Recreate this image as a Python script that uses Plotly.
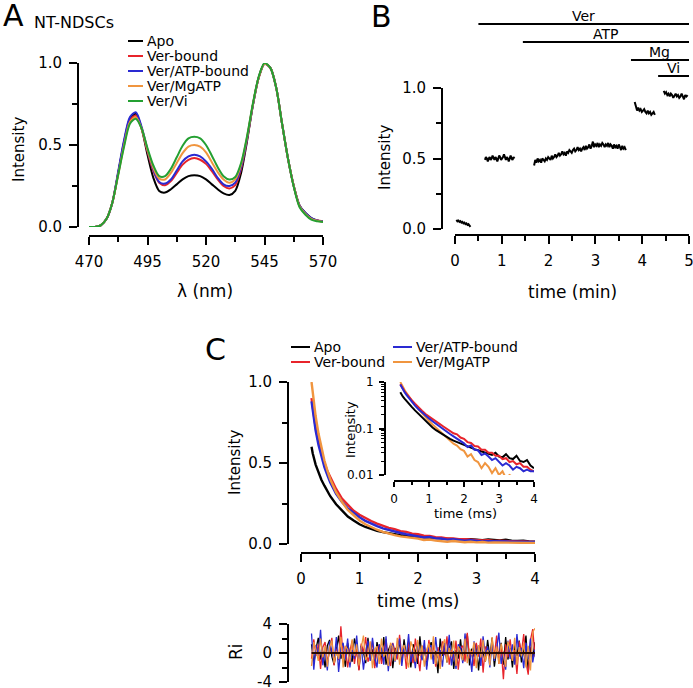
import numpy as np
import plotly.graph_objects as go

W, H = 693, 688
FONT = "DejaVu Sans"

# ---------------- data ----------------
series_names = ["Apo", "Ver-bound", "Ver/ATP-bound", "Ver/MgATP", "Ver/Vi"]
series_colors = ["#000000", "#e8242b", "#2a2ad2", "#f0953f", "#24a032"]

# Panel A: emission spectra (wavelength grid, nm)
wavelength = [470, 472.5, 475, 477.5, 480, 482.5, 485, 487.5, 490, 492.5, 495, 497.5, 500, 502.5,
              505, 507.5, 510, 512.5, 515, 517.5, 520, 522.5, 525, 527.5, 530, 532.5, 535, 537.5,
              540, 542.5, 545, 547.5, 550, 552.5, 555, 557.5, 560, 562.5, 565, 567.5, 570]
spec_apo = [0.00, 0.00, 0.01, 0.05, 0.15, 0.33, 0.52, 0.66, 0.69, 0.60, 0.44, 0.30, 0.22, 0.21,
            0.23, 0.26, 0.29, 0.31, 0.315, 0.31, 0.29, 0.26, 0.23, 0.205, 0.195, 0.22, 0.33, 0.52,
            0.74, 0.91, 0.995, 0.97, 0.85, 0.63, 0.42, 0.25, 0.13, 0.085, 0.055, 0.04, 0.035]
spec_ver = [0.00, 0.00, 0.01, 0.05, 0.15, 0.33, 0.51, 0.65, 0.68, 0.60, 0.46, 0.34, 0.27, 0.255,
            0.28, 0.33, 0.38, 0.41, 0.42, 0.41, 0.385, 0.34, 0.29, 0.25, 0.235, 0.255, 0.355, 0.53,
            0.74, 0.91, 0.995, 0.97, 0.85, 0.63, 0.42, 0.25, 0.13, 0.08, 0.05, 0.04, 0.035]
spec_veratp = [0.00, 0.00, 0.01, 0.05, 0.15, 0.34, 0.53, 0.67, 0.70, 0.61, 0.47, 0.35, 0.275, 0.265,
               0.29, 0.345, 0.40, 0.43, 0.44, 0.43, 0.40, 0.355, 0.30, 0.26, 0.25, 0.27, 0.365, 0.535,
               0.74, 0.91, 0.995, 0.97, 0.85, 0.63, 0.42, 0.25, 0.13, 0.085, 0.055, 0.04, 0.035]
spec_mgatp = [0.00, 0.00, 0.01, 0.05, 0.15, 0.32, 0.50, 0.64, 0.67, 0.60, 0.47, 0.36, 0.295, 0.29,
              0.33, 0.39, 0.45, 0.49, 0.50, 0.49, 0.455, 0.395, 0.335, 0.29, 0.27, 0.29, 0.38, 0.545,
              0.745, 0.91, 0.995, 0.97, 0.85, 0.63, 0.42, 0.25, 0.125, 0.08, 0.05, 0.038, 0.032]
spec_vi = [0.00, 0.00, 0.01, 0.05, 0.15, 0.32, 0.49, 0.63, 0.66, 0.60, 0.48, 0.375, 0.31, 0.31,
           0.355, 0.425, 0.495, 0.54, 0.55, 0.54, 0.50, 0.435, 0.365, 0.31, 0.29, 0.305, 0.39, 0.55,
           0.75, 0.915, 1.0, 0.97, 0.85, 0.63, 0.42, 0.245, 0.12, 0.075, 0.045, 0.035, 0.03]
spectra = [spec_apo, spec_ver, spec_veratp, spec_mgatp, spec_vi]

# Panel B: time course segments (start min, end min, values)
seg1_t = (0.03, 0.33)
seg1_v = [0.065, 0.055, 0.06, 0.05, 0.055, 0.045, 0.05, 0.04, 0.045, 0.035, 0.04, 0.03, 0.035, 0.025, 0.015]
seg2_t = (0.64, 1.27)
seg2_v = [0.49, 0.51, 0.50, 0.48, 0.50, 0.51, 0.49, 0.50, 0.52, 0.50, 0.49, 0.51, 0.50, 0.48, 0.50, 0.52,
          0.51, 0.49, 0.50, 0.51, 0.53, 0.50, 0.49, 0.51, 0.50, 0.48, 0.51, 0.52, 0.50, 0.49, 0.51, 0.50]
seg3_t = (1.69, 3.65)
seg3_v = [0.45,
          0.49, 0.47, 0.50, 0.48, 0.49, 0.47, 0.50, 0.49, 0.48, 0.50,
          0.49, 0.51, 0.50, 0.49, 0.52, 0.50, 0.51, 0.53, 0.51, 0.52,
          0.54, 0.52, 0.53, 0.55, 0.53, 0.54, 0.52, 0.55, 0.54, 0.56,
          0.55, 0.54, 0.56, 0.57, 0.55, 0.56, 0.58, 0.56, 0.57, 0.55,
          0.57, 0.58, 0.56, 0.59, 0.57, 0.58, 0.60, 0.57, 0.59, 0.62,
          0.58, 0.60, 0.59, 0.61, 0.58, 0.60, 0.59, 0.61, 0.60, 0.58,
          0.60, 0.59, 0.61, 0.58, 0.60, 0.59, 0.57, 0.60, 0.58, 0.59,
          0.57, 0.60, 0.58, 0.56, 0.59, 0.57, 0.58, 0.56]
seg4_t = (3.84, 4.27)
seg4_v = [0.90, 0.86, 0.84, 0.86, 0.84, 0.85, 0.83, 0.84, 0.85, 0.83, 0.82, 0.84, 0.82, 0.83, 0.81, 0.82, 0.83, 0.81]
seg5_t = (4.46, 4.97)
seg5_v = [0.98, 0.96, 0.97, 0.95, 0.96, 0.94, 0.96, 0.95, 0.93, 0.95, 0.96, 0.94, 0.95, 0.93, 0.94, 0.96,
          0.94, 0.92, 0.95, 0.94, 0.95]
segments = [(seg1_t, seg1_v), (seg2_t, seg2_v), (seg3_t, seg3_v), (seg4_t, seg4_v), (seg5_t, seg5_v)]

treat_names = ["Ver", "ATP", "Mg", "Vi"]
treat_start = [0.5, 1.45, 3.76, 4.34]
treat_end = [5.0, 5.0, 5.0, 5.0]

# Panel C: fluorescence decays (ms)
decay_names = ["Apo", "Ver-bound", "Ver/ATP-bound", "Ver/MgATP"]
decay_colors = ["#000000", "#e8242b", "#2a2ad2", "#f0953f"]
t_decay = [0.18, 0.2, 0.25, 0.3, 0.35, 0.4, 0.45, 0.5, 0.6, 0.7, 0.8, 0.9, 1.0, 1.1, 1.2, 1.3, 1.4, 1.5,
           1.6, 1.7, 1.8, 1.9, 2.0, 2.1, 2.2, 2.3, 2.4, 2.5, 2.6, 2.7, 2.8, 2.9, 3.0, 3.1, 3.2, 3.3,
           3.4, 3.5, 3.6, 3.7, 3.8, 3.9, 4.0]
dec_apo = [0.60, 0.56, 0.49, 0.44, 0.395, 0.36, 0.325, 0.295, 0.245, 0.205, 0.17, 0.145, 0.122, 0.105,
           0.092, 0.082, 0.073,
           0.066, 0.060, 0.055, 0.051, 0.047, 0.044, 0.041, 0.038, 0.036, 0.034, 0.032, 0.030, 0.029,
           0.027, 0.030, 0.025, 0.024, 0.028, 0.023, 0.022, 0.026, 0.020, 0.019, 0.021, 0.016, 0.014]
dec_ver = [0.90, 0.84, 0.72, 0.63, 0.56, 0.50, 0.45, 0.41, 0.34, 0.28, 0.24, 0.205, 0.18, 0.16, 0.142,
           0.126, 0.112,
           0.10, 0.092, 0.079, 0.075, 0.064, 0.060, 0.051, 0.049, 0.042, 0.041, 0.035, 0.035, 0.030,
           0.030, 0.026, 0.026, 0.022, 0.023, 0.019, 0.020, 0.017, 0.018, 0.015, 0.015, 0.013, 0.012]
dec_veratp = [0.88, 0.82, 0.70, 0.61, 0.535, 0.475, 0.425, 0.38, 0.31, 0.26, 0.22, 0.19, 0.165, 0.143,
              0.125, 0.11, 0.097,
              0.086, 0.076, 0.068, 0.060, 0.054, 0.048, 0.040, 0.043, 0.035, 0.034, 0.027, 0.029, 0.025,
              0.021, 0.023, 0.019, 0.016, 0.018, 0.016, 0.013, 0.015, 0.014, 0.012, 0.013, 0.012, 0.012]
dec_mgatp = [1.00, 0.93, 0.79, 0.68, 0.59, 0.515, 0.455, 0.40, 0.32, 0.26, 0.21, 0.175, 0.145, 0.122,
             0.103, 0.088, 0.075,
             0.064, 0.055, 0.047, 0.043, 0.036, 0.033, 0.025, 0.028, 0.021, 0.019, 0.014, 0.018, 0.015,
             0.011, 0.014, 0.010, 0.012, 0.0085, 0.010, 0.009, 0.0075, 0.008, 0.007, 0.0068, 0.0062, 0.006]
decays = [dec_apo, dec_ver, dec_veratp, dec_mgatp]

# Residuals (weighted), plotted over 0.18–4.0 ms
res_t_range = (0.18, 4.0)
res_apo = [1.2, -1.5, 0.6, 2.1, -0.9, 0.3, -2.0, 1.0, 1.8, -0.5, -1.6, 0.8, 2.4, -0.8, 0.2, -1.9, 1.4, -0.3, -1.2, 2.0,
           0.6, -2.3, 1.0, 0.1, -1.4, 2.1, -0.7, 0.5, -1.8, 1.5, 0.2, -1.0, 2.2, -1.6, 0.4, 1.1, -2.1, 0.7, -0.3, 1.7,
           -1.1, 1.9, -0.6, 0.8, -2.0, 1.2, 0.3, -1.5, 2.3, -0.7, 0.9, -1.8, 0.5, 1.5, -0.9, 0.3, -2.8, 2.0, -0.4, 1.0,
           -1.3, 0.7, 1.6, -2.2, 0.4, -0.8, 1.9, -1.1, 0.2, 2.6, -1.7, 0.6, -0.5, 1.3, -2.4, 0.9, 0.1, -1.2, 1.8, -0.6,
           2.1, -1.9, 0.5, -0.2, 1.4, -1.6, 2.2, -0.9, 0.7, -2.0, 1.1, -0.4, 1.7, -1.3, 0.3, 2.4, -2.6, 0.8, -0.7, 1.5]
res_ver = [-0.8, 1.9, -0.4, 1.2, -2.2, 0.8, 1.5, -1.3, 0.2, 2.1, -1.7, 0.6, -1.0, 3.7, -0.7, 0.9, -2.0, 0.3, 1.7, -1.5,
           0.5, -2.4, 1.3, 0.1, 2.2, -1.2, -0.2, 1.6, -2.1, 0.7, 1.1, -1.5, 0.4, 1.9, -0.8, -1.8, 1.4, 0.3, -0.9, 2.5,
           -0.5, 0.9, -2.2, 1.5, 0.2, -1.4, 2.0, -0.3, -2.5, 1.0, 0.5, -1.1, 1.8, -0.6, 1.2, -1.9, 0.8, -1.3, 1.6, -0.3,
           2.3, -1.6, 0.4, -0.9, 1.7, -2.3, 0.6, 1.0, -1.2, 2.8, -0.7, 0.3, -1.8, 1.4, -0.5, 2.0, -2.7, 0.9, 0.2, -1.0,
           1.5, -0.4, 2.4, -1.5, 0.7, -3.6, 1.2, -0.6, 1.9, -1.1, 0.4, -2.9, 1.6, 0.1, 2.6, -1.3, -3.0, 1.8, 3.3, -0.5]
res_veratp = [2.7, -2.3, 1.1, -0.4, 3.2, -1.7, 0.5, -2.4, 1.6, 0.2, -1.2, 2.2, -2.6, 0.7, 1.4, -0.9, 2.0, -2.0, 0.4, -0.8,
              2.4, -1.4, 1.0, -2.3, 0.3, 1.7, -1.1, 2.1, -0.5, -2.0, 1.2, 0.6, -1.6, 2.3, -2.5, 0.8, 1.3, -1.2, 0.1, 2.0,
              -1.8, 0.9, -0.5, 2.6, -1.3, 0.4, -2.1, 1.5, 0.2, -1.0, 1.8, -2.3, 0.7, 1.1, -1.5, 2.2, -0.7, 0.4, -1.9, 1.4,
              -0.6, 2.5, -1.7, 0.3, -2.2, 1.2, 0.8, -1.4, 2.7, -0.9, 0.5, -2.6, 1.6, -0.3, 1.0, -1.8, 2.3, -0.4, 0.9, -2.0,
              1.3, -1.1, 0.6, 2.8, -1.5, 0.2, -2.3, 1.7, -0.8, 1.2, -1.6, 2.6, -0.5, 0.7, -2.1, 1.4, -0.9, 2.0, -1.3, 0.5]
res_mgatp = [-1.8, 1.5, 0.4, -1.1, 2.0, -0.6, 1.0, -1.9, 0.8, 1.7, -1.4, 0.3, -0.8, 2.2, -2.0, 1.0, 0.5, -1.3, 1.9, -0.4,
             1.2, -1.7, 0.7, 2.4, -1.0, -0.3, 1.6, -2.1, 0.5, 0.9, -1.5, 2.0, -0.5, 0.2, -1.8, 1.4, 0.8, -1.1, 2.1, -1.6,
             0.4, 1.1, -0.7, -2.0, 1.6, 0.6, -1.2, 1.8, -0.4, 1.0, -1.9, 0.5, 1.3, -0.9, 2.3, -1.5, 0.3, -2.2, 1.0, 1.9,
             -1.3, 0.7, -0.5, 1.7, -1.8, 0.9, 0.2, -1.0, 2.0, -1.4, 0.6, -0.3, 1.5, -2.1, 1.1, -0.6, 1.8, -1.2, 0.4, -1.7,
             2.2, -0.8, 0.9, -1.5, 1.3, -0.2, -1.9, 1.6, 0.5, -1.1, 2.1, -1.6, 0.8, -0.4, 1.4, -2.0, 1.0, -2.4, 2.9, 3.4]
residuals = [res_apo, res_ver, res_veratp, res_mgatp]


# ---------------- helpers ----------------
def P(x):
    return x / W


def Q(y):
    return 1 - y / H


def axis(domain_px, rng, pos, horizontal, dtick=None, minor_dtick=None, size=15, ticklen=8,
         standoff=4, **kw):
    if horizontal:
        dom = [P(domain_px[0]), P(domain_px[1])]
        position = Q(pos)
    else:
        dom = [Q(domain_px[1]), Q(domain_px[0])]
        position = P(pos)
    d = dict(domain=dom, range=rng, anchor="free", position=position, showline=True,
             linecolor="black", linewidth=2, ticks="outside", ticklen=ticklen, tickwidth=2,
             tickcolor="black", showgrid=False, zeroline=False, ticklabelstandoff=standoff,
             ticklabeloverflow="allow",
             tickfont=dict(family=FONT, size=size, color="black"))
    if dtick is not None:
        d["dtick"] = dtick
        d["tick0"] = rng[0]
    if minor_dtick is not None:
        d["minor"] = dict(dtick=minor_dtick, tick0=rng[0], ticks="outside", ticklen=max(ticklen - 3, 3),
                          tickwidth=1.5, tickcolor="black", showgrid=False)
    d.update(kw)
    return d


fig = go.Figure()

# Panel A
for name, col, vals in zip(series_names, series_colors, spectra):
    fig.add_trace(go.Scatter(x=wavelength, y=vals, mode="lines", name=name,
                             line=dict(color=col, width=2, shape="spline", smoothing=0.8),
                             xaxis="x", yaxis="y", showlegend=False))

# Panel B
for (t0t1, vals) in segments:
    tt = np.linspace(t0t1[0], t0t1[1], len(vals))
    fig.add_trace(go.Scatter(x=tt, y=vals, mode="lines", line=dict(color="black", width=2),
                             xaxis="x2", yaxis="y2", showlegend=False))

# Panel C main
for name, col, vals in zip(decay_names, decay_colors, decays):
    fig.add_trace(go.Scatter(x=t_decay, y=vals, mode="lines", name=name,
                             line=dict(color=col, width=2.4),
                             xaxis="x3", yaxis="y3", showlegend=False))

# Inset (log)
inset_order = [3, 0, 1, 2]
for i in inset_order:
    fig.add_trace(go.Scatter(x=t_decay, y=decays[i], mode="lines",
                             line=dict(color=decay_colors[i], width=2),
                             xaxis="x4", yaxis="y4", showlegend=False))

# Residuals
for i in [0, 1, 2, 3]:
    rt = np.linspace(res_t_range[0], res_t_range[1], len(residuals[i]))
    fig.add_trace(go.Scatter(x=rt, y=residuals[i], mode="lines",
                             line=dict(color=decay_colors[i], width=1.3),
                             xaxis="x5", yaxis="y5", showlegend=False))
fig.add_trace(go.Scatter(x=list(res_t_range), y=[0, 0], mode="lines",
                         line=dict(color="#2a0a00", width=2), xaxis="x5", yaxis="y5",
                         showlegend=False))

log_minor = [m * 10.0 ** e for e in (-2, -1) for m in range(2, 10)]

fig.update_layout(
    width=W, height=H, margin=dict(l=0, r=0, t=0, b=0, autoexpand=False),
    paper_bgcolor="white", plot_bgcolor="white", showlegend=False,
    xaxis=axis((89, 323), [470, 570], 236, True, dtick=25, minor_dtick=12.5),
    yaxis=axis((63, 227), [0, 1.0], 78, False, dtick=0.5, minor_dtick=0.25, tickformat=".1f"),
    xaxis2=axis((455, 689), [0, 5], 235, True, dtick=1, minor_dtick=0.5),
    yaxis2=axis((88, 229), [0, 1.0], 442, False, dtick=0.5, minor_dtick=0.25, tickformat=".1f"),
    xaxis3=axis((301, 535), [0, 4], 553, True, dtick=1, minor_dtick=0.5),
    yaxis3=axis((382, 544), [0, 1.0], 288, False, dtick=0.5, minor_dtick=0.25, tickformat=".1f"),
    xaxis4=axis((394, 534), [0, 4], 481, True, dtick=1, minor_dtick=0.5, size=12, ticklen=5,
                standoff=2),
    yaxis4=axis((382, 475), [-2, 0], 385, False, size=12, ticklen=5, standoff=3, type="log",
                tickmode="array", tickvals=[0.01, 0.1, 1], ticktext=["0.01", "0.1", "1"],
                minor=dict(tickmode="array", tickvals=log_minor, ticks="outside", ticklen=3,
                           tickwidth=1, tickcolor="black", showgrid=False)),
    xaxis5=dict(domain=[P(301), P(535)], range=[0, 4], anchor="free", position=0, visible=False),
    yaxis5=axis((624, 682), [-4, 4], 288, False, tickmode="array", tickvals=[-4, 0, 4],
                ticktext=["-4", "0", "4"],
                minor=dict(tickmode="array", tickvals=[-2, 2], ticks="outside", ticklen=5,
                           tickwidth=1.5, tickcolor="black", showgrid=False)),
)

ann = []
shapes = []


def text(x, y, s, size=14, xanchor="center", yanchor="middle", angle=0, xref="paper", yref="paper"):
    ann.append(dict(x=x, y=y, xref=xref, yref=yref, text=s, showarrow=False, xanchor=xanchor,
                    yanchor=yanchor, textangle=angle,
                    font=dict(family=FONT, size=size, color="black")))


# panel letters
text(P(13), Q(15), "A", size=30)
text(P(32), Q(22), "NT-NDSCs", size=16, xanchor="left")
text(P(381), Q(16), "B", size=30)
text(P(215), Q(349), "C", size=30)

# axis titles
text(P(19), Q(150), "Intensity", size=15, angle=-90)
text(P(205), Q(291), "λ (nm)", size=17)
text(P(385), Q(158), "Intensity", size=15, angle=-90)
text(P(572), Q(292), "time (min)", size=17)
text(P(235), Q(463), "Intensity", size=15, angle=-90)
text(P(418), Q(601), "time (ms)", size=17)
text(P(350), Q(430), "Intensity", size=13, angle=-90)
text(P(465), Q(513), "time (ms)", size=13)
text(P(236), Q(652), "Ri", size=17, angle=-90)

# legend A
for i, (name, col) in enumerate(zip(series_names, series_colors)):
    yy = 41 + 15 * i
    shapes.append(dict(type="line", xref="paper", yref="paper", x0=P(128), x1=P(143), y0=Q(yy),
                       y1=Q(yy), line=dict(color=col, width=2)))
    text(P(145), Q(yy), name, size=14, xanchor="left")

# legend C (two columns)
for i, (name, col) in enumerate(zip(decay_names, decay_colors)):
    colx = 291 if i < 2 else 393
    yy = 347 + 15 * (i % 2)
    shapes.append(dict(type="line", xref="paper", yref="paper", x0=P(colx), x1=P(colx + 19),
                       y0=Q(yy), y1=Q(yy), line=dict(color=col, width=2)))
    text(P(colx + 21), Q(yy), name, size=14, xanchor="left")

# treatment bars in B
bar_y = [24, 42, 60, 76]
for name, s, e, yy in zip(treat_names, treat_start, treat_end, bar_y):
    shapes.append(dict(type="line", xref="x2", yref="paper", x0=s, x1=e, y0=Q(yy), y1=Q(yy),
                       line=dict(color="black", width=2)))
    text((s + e) / 2, Q(yy - 8), name, size=14, xref="x2")

fig.update_layout(annotations=ann, shapes=shapes)
fig.write_html("out.html", config={"displayModeBar": False},
               post_script="document.body.style.margin='0';document.body.style.overflow='hidden';")
